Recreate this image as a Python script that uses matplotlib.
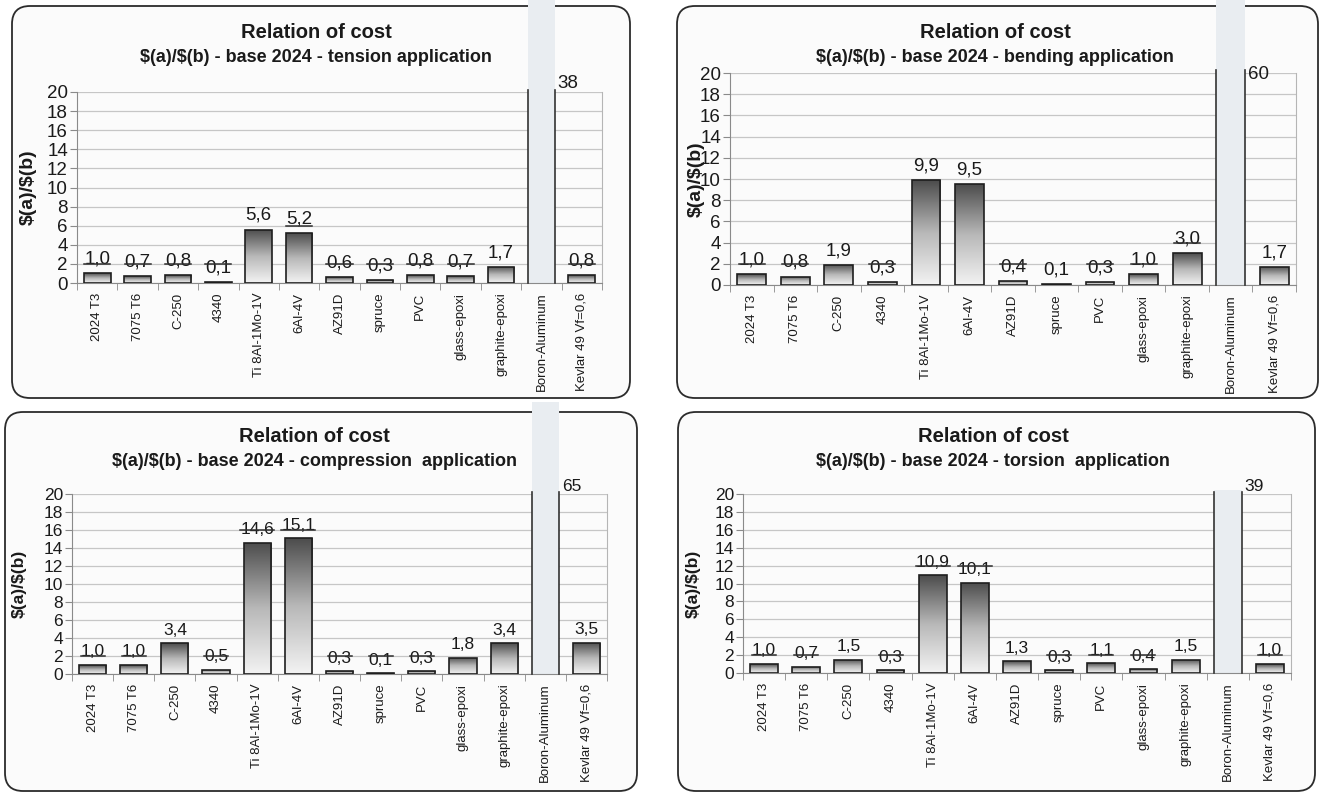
import numpy as np
import matplotlib
matplotlib.use("Agg")
import matplotlib.pyplot as plt
from matplotlib.colors import LinearSegmentedColormap
from matplotlib.patches import FancyBboxPatch
from matplotlib.transforms import IdentityTransform, Bbox

plt.rcParams['font.family'] = ['Liberation Sans', 'DejaVu Sans']

# cost ratio $(a)/$(b), base 2024 T3
materials = ["2024 T3", "7075 T6", "C-250", "4340", "Ti 8Al-1Mo-1V", "6Al-4V",
             "AZ91D", "spruce", "PVC", "glass-epoxi", "graphite-epoxi",
             "Boron-Aluminum", "Kevlar 49 Vf=0,6"]
tension = [1.0, 0.7, 0.8, 0.1, 5.6, 5.2, 0.6, 0.3, 0.8, 0.7, 1.7, 38, 0.8]
bending = [1.0, 0.8, 1.9, 0.3, 9.9, 9.5, 0.4, 0.1, 0.3, 1.0, 3.0, 60, 1.7]
compression = [1.0, 1.0, 3.4, 0.5, 14.6, 15.1, 0.3, 0.1, 0.3, 1.8, 3.4, 65, 3.5]
torsion = [1.0, 0.7, 1.5, 0.3, 10.9, 10.1, 1.3, 0.3, 1.1, 0.4, 1.5, 39, 1.0]

applications = ["tension application", "bending application",
                "compression  application", "torsion  application"]
series = [tension, bending, compression, torsion]

W, H = 1321, 793
fig = plt.figure(figsize=(W / 100, H / 100), dpi=100)
fig.patch.set_facecolor("white")

# layout in pixels: box (x0, y0, x1, y1), axes (x0, y0, x1, y1), title pos, ylabel x,
# font size of numbers, top of the overflow strip, offset of the big label
layout = [
    dict(box=(12, 6, 630, 398), axes=(77, 92, 602, 283), tx=316, ty=32, yx=28, ys=14, fs=13.5, strip=0, big_dy=0),
    dict(box=(677, 6, 1318, 398), axes=(730, 73, 1296, 285), tx=995, ty=32, yx=696, ys=14, fs=13.5, strip=0, big_dy=-7),
    dict(box=(5, 412, 637, 791), axes=(72, 494, 607, 674), tx=314, ty=437, yx=19, ys=12.5, fs=12.5, strip=402, big_dy=0),
    dict(box=(678, 412, 1315, 791), axes=(743, 494, 1291, 673), tx=993, ty=437, yx=693, ys=12.5, fs=12.5, strip=490, big_dy=0),
]

grad = LinearSegmentedColormap.from_list("grad", ["#f3f3f3", "#b8b8b8", "#4c4c4c"])
gimg = np.linspace(0, 1, 256).reshape(-1, 1)

x = np.arange(len(materials))
bw = 0.66
ymax = 20
small_labels = []

for k in range(4):
    L = layout[k]
    vals = series[k]

    bx0, by0, bx1, by1 = L["box"]
    box = FancyBboxPatch((bx0, H - by1), bx1 - bx0, by1 - by0,
                         boxstyle="round,pad=0,rounding_size=18",
                         transform=IdentityTransform(), facecolor="#fbfbfb",
                         edgecolor="#2b2b2b", lw=1.3, zorder=-5)
    fig.add_artist(box)

    ax0, ay0, ax1, ay1 = L["axes"]
    ax = fig.add_axes([ax0 / W, 1 - ay1 / H, (ax1 - ax0) / W, (ay1 - ay0) / H])
    ax.set_facecolor("none")

    # titles
    fig.text(L["tx"] / W, 1 - L["ty"] / H, "Relation of cost", ha="center", va="center",
             fontsize=14.5, fontweight="bold", color="#1a1a1a")
    fig.text(L["tx"] / W, 1 - (L["ty"] + 25) / H,
             r"\$(a)/\$(b) - base 2024 - " + applications[k], ha="center", va="center",
             fontsize=13, fontweight="bold", color="#1a1a1a")
    fig.text(L["yx"] / W, 1 - (ay0 + ay1) / 2 / H, r"\$(a)/\$(b)", rotation=90,
             ha="center", va="center", fontsize=L["ys"], fontweight="bold", color="#1a1a1a")

    for i in range(len(vals)):
        v = vals[i]
        if v > ymax:
            # bar running off the scale
            b = ax.bar(x[i], v, width=bw, color="#e9edf1", edgecolor="none", zorder=2)[0]
            b.set_clip_box(Bbox.from_extents(0, 0, W, H - L["strip"]))
            ax.plot([x[i] - bw / 2] * 2, [0, ymax * 1.012], color="#333333", lw=1.2,
                    clip_on=False, zorder=3)
            ax.plot([x[i] + bw / 2] * 2, [0, ymax * 1.012], color="#333333", lw=1.2,
                    clip_on=False, zorder=3)
            ax.annotate(f"{v:.0f}", (x[i] + bw / 2, ymax), xytext=(2, L["big_dy"]),
                        textcoords="offset points", ha="left", va="bottom",
                        fontsize=L["fs"], color="#1a1a1a", annotation_clip=False)
        else:
            b = ax.bar(x[i], v, width=bw, facecolor="none", edgecolor="#1e1e1e",
                       lw=1.2, zorder=3)[0]
            im = ax.imshow(gimg, cmap=grad, origin="lower", aspect="auto",
                           extent=[x[i] - bw / 2, x[i] + bw / 2, 0, v], zorder=2.5)
            im.set_clip_path(b)
            t = ax.annotate(f"{v:.1f}".replace(".", ","), (x[i], v), xytext=(0, 4),
                            textcoords="offset points", ha="center", va="bottom",
                            fontsize=L["fs"], color="#1a1a1a")
            small_labels.append((ax, t))

    ax.set_xlim(-0.5, len(materials) - 0.5)
    ax.set_ylim(0, ymax)
    ax.set_yticks(range(0, ymax + 1, 2))
    ax.yaxis.grid(True, color="#c6c6c6", lw=0.9)
    ax.set_axisbelow(True)
    ax.set_xticks(x)
    ax.set_xticklabels(materials, rotation=90, fontsize=9.5, color="#1a1a1a")
    ax.set_xticks(np.arange(-0.5, len(materials), 1), minor=True)
    ax.tick_params(axis="x", which="major", length=0, pad=7)
    ax.tick_params(axis="x", which="minor", length=5, color="#8a8a8a")
    ax.tick_params(axis="y", length=5, color="#8a8a8a", labelsize=L["fs"], pad=1.5,
                   labelcolor="#1a1a1a")
    ax.spines["top"].set_visible(False)
    ax.spines["left"].set_color("#8a8a8a")
    ax.spines["bottom"].set_color("#8a8a8a")
    ax.spines["right"].set_color("#b5b5b5")

# gridlines show dark where they cross a value label
fig.canvas.draw()
for ax, t in small_labels:
    bb = t.get_window_extent()
    inv = ax.transData.inverted()
    xa, ya = inv.transform((bb.x0, bb.y0 + 1))
    xb, yb = inv.transform((bb.x1, bb.y1 - 3))
    for g in range(2, ymax + 1, 2):
        if ya <= g <= yb:
            ax.plot([xa, xb], [g, g], color="#2e2e2e", lw=1.1, zorder=4)

fig.savefig("out.png", dpi=100)
